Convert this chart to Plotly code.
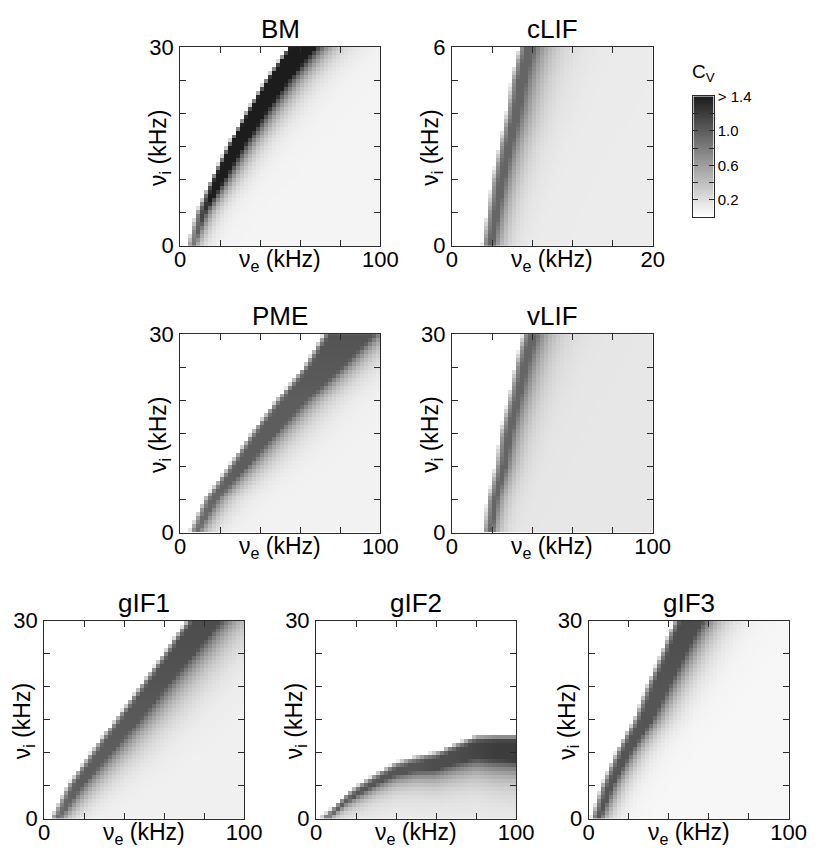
import numpy as np
import plotly.graph_objects as go

FONT = "Liberation Sans, Arial, Helvetica, sans-serif"
W, H = 825, 865

# ---------------------------------------------------------------------------
# CV maps, sampled along the boundary of the firing region.
# onset   = rate at which firing sets in (kHz)
# plateau = width of the high-CV band right after onset (kHz)
# fade    = distance over which CV relaxes to the floor value (kHz)
# peak    = CV inside the band
# ---------------------------------------------------------------------------
NU_I_LEVELS = [0, 5, 10, 15, 20, 25, 30]          # kHz
CLIF_NU_I_LEVELS = [0, 1, 2, 3, 4, 5, 6]          # kHz

bm_onset = [3.9, 8.5, 16.0, 24.0, 33.0, 43.0, 54.5]
bm_plateau = [2, 3, 4, 5, 6.5, 8, 10]
bm_fade = [10, 12, 14, 16, 18, 20, 22]
bm_peak = [0.85, 1.2, 1.75, 1.9, 1.9, 1.9, 1.9]
bm_floor = 0.07

clif_onset = [3.1, 3.6, 4.1, 4.8, 5.5, 6.0, 6.8]
clif_plateau = [0.8, 0.9, 1.0, 1.0, 1.1, 1.2, 1.2]
clif_fade = [2.8, 3.0, 3.4, 3.8, 4.2, 4.6, 5.0]
clif_peak = [0.95, 0.95, 0.95, 0.95, 0.95, 0.95, 0.95]
clif_floor = 0.12

pme_onset = [5.0, 12.5, 24.5, 36.0, 48.5, 62.0, 72.2]
pme_plateau = [3, 5, 8, 11, 14, 18, 24]
pme_fade = [14, 18, 22, 24, 24, 24, 24]
pme_peak = [0.9, 0.95, 1.0, 1.0, 1.0, 1.03, 1.06]
pme_floor = 0.08

vlif_onset = [16.0, 18.1, 22.1, 24.5, 28.5, 31.8, 35.8]
vlif_plateau = [3, 3.5, 4, 4.5, 4.5, 5, 5.5]
vlif_fade = [10, 12, 14, 16, 18, 20, 22]
vlif_peak = [0.95, 0.95, 0.95, 0.95, 0.95, 0.95, 0.95]
vlif_floor = 0.15

gif1_onset = [3.6, 12.0, 23.8, 35.9, 48.1, 60.2, 71.5]
gif1_plateau = [3, 6, 9, 11, 12, 14, 16]
gif1_fade = [14, 22, 26, 28, 30, 30, 30]
gif1_peak = [0.9, 1.0, 1.0, 1.02, 1.05, 1.08, 1.1]
gif1_floor = 0.09

# gIF2 fires below a ceiling in nu_i that depends on nu_e
GIF2_NU_E_LEVELS = [0, 5, 10, 15, 20, 30, 40, 50, 60, 70, 80, 90, 100]
gif2_ceiling = [-0.5, 0.8, 2.1, 3.6, 4.8, 6.7, 8.4, 9.3, 9.9, 11.2, 12.4, 12.5, 12.5]
gif2_plateau = [0.4, 0.5, 0.6, 0.8, 1.0, 1.2, 1.5, 1.8, 2.2, 2.6, 3.0, 3.3, 3.5]
gif2_fade = [1.5, 2.0, 2.5, 3.0, 3.5, 4.0, 4.5, 5.0, 5.5, 6.0, 6.5, 7.0, 7.0]
gif2_peak = [0.9, 0.95, 1.0, 1.0, 1.05, 1.05, 1.05, 1.05, 1.1, 1.1, 1.15, 1.2, 1.2]
gif2_floor = 0.12

gif3_onset = [1.3, 6.5, 13.8, 22.7, 29.1, 36.4, 42.9]
gif3_plateau = [3, 4.5, 6, 8, 10, 11, 13]
gif3_fade = [12, 14, 16, 18, 20, 22, 24]
gif3_peak = [1.05, 1.05, 1.05, 1.05, 1.05, 1.08, 1.1]
gif3_floor = 0.05

CV_MAX = 1.4
N_CELLS = 50


def cell_value(frac, dist, step, plateau, fade, peak, floor):
    """CV of one grid cell; frac = part of the cell past the onset,
    dist = distance of the cell's near edge from the onset."""
    if frac <= 0.15:
        return np.nan
    if frac < 1.0:
        return 0.7 * peak * frac
    if dist < step:
        return peak * (0.7 + 0.3 * dist / step)
    if dist < plateau:
        return peak
    return floor + (peak - floor) * np.exp(-(dist - plateau) / (fade / 3.0))


def cv_map(x_max, y_max, levels, onset, plateau, fade, peak, floor, along="x"):
    dx, dy = x_max / N_CELLS, y_max / N_CELLS
    xc = (np.arange(N_CELLS) + 0.5) * dx
    yc = (np.arange(N_CELLS) + 0.5) * dy
    z = np.full((N_CELLS, N_CELLS), np.nan)
    if along == "x":
        for j, y in enumerate(yc):
            x0 = np.interp(y, levels, onset)
            w = np.interp(y, levels, plateau)
            f = np.interp(y, levels, fade)
            p = np.interp(y, levels, peak)
            for i, x in enumerate(xc):
                frac = (x + dx / 2 - x0) / dx
                z[j, i] = cell_value(frac, x - dx / 2 - x0, dx, w, f, p, floor)
    else:
        for i, x in enumerate(xc):
            y0 = np.interp(x, levels, onset)
            w = np.interp(x, levels, plateau)
            f = np.interp(x, levels, fade)
            p = np.interp(x, levels, peak)
            for j, y in enumerate(yc):
                frac = (y0 - (y - dy / 2)) / dy
                z[j, i] = cell_value(frac, y0 - (y + dy / 2), dy, w, f, p, floor)
    return xc, yc, z


GRAY = [[0.0, "#ffffff"], [1.0, "#1c1c1c"]]

# title, x max, y max, x tick step, y tick step, pixel box (left, right, top, bottom), map
panels = [
    ("BM", 100, 30, 20, 5, (179.3, 385.7, 36, 240.7),
     cv_map(100, 30, NU_I_LEVELS, bm_onset, bm_plateau, bm_fade, bm_peak, bm_floor)),
    ("cLIF", 20, 6, 4, 1, (459.3, 666, 36, 240.7),
     cv_map(20, 6, CLIF_NU_I_LEVELS, clif_onset, clif_plateau, clif_fade, clif_peak, clif_floor)),
    ("PME", 100, 30, 20, 5, (179.3, 385.7, 331.7, 536),
     cv_map(100, 30, NU_I_LEVELS, pme_onset, pme_plateau, pme_fade, pme_peak, pme_floor)),
    ("vLIF", 100, 30, 20, 5, (459.3, 666, 331.7, 536),
     cv_map(100, 30, NU_I_LEVELS, vlif_onset, vlif_plateau, vlif_fade, vlif_peak, vlif_floor)),
    ("gIF1", 100, 30, 20, 5, (39.3, 245.3, 626.7, 830.7),
     cv_map(100, 30, NU_I_LEVELS, gif1_onset, gif1_plateau, gif1_fade, gif1_peak, gif1_floor)),
    ("gIF2", 100, 30, 20, 5, (319.3, 525.3, 626.7, 830.7),
     cv_map(100, 30, GIF2_NU_E_LEVELS, gif2_ceiling, gif2_plateau, gif2_fade, gif2_peak,
            gif2_floor, along="y")),
    ("gIF3", 100, 30, 20, 5, (600, 806, 626.7, 830.7),
     cv_map(100, 30, NU_I_LEVELS, gif3_onset, gif3_plateau, gif3_fade, gif3_peak, gif3_floor)),
]

fig = go.Figure()
layout = dict(
    width=W, height=H, margin=dict(l=0, r=0, t=0, b=0),
    paper_bgcolor="white", plot_bgcolor="white",
    font=dict(family=FONT, size=22, color="black"),
    showlegend=False,
)
annotations = []

LINE = "#2a2a2a"


def px_x(v):
    return v / W


def px_y(v):
    return 1 - v / H


def axis_common(rng, tickvals, ticktext, standoff):
    return dict(range=rng, tickvals=tickvals, ticktext=ticktext, ticks="inside",
                ticklen=6, tickwidth=1, tickcolor=LINE, mirror="ticks", showline=True,
                linecolor=LINE, linewidth=1, showgrid=False, zeroline=False,
                ticklabelstandoff=standoff,
                tickfont=dict(family=FONT, size=22, color="black"), fixedrange=True)


for k, (title, xmax, ymax, xstep, ystep, box, (xc, yc, z)) in enumerate(panels, start=1):
    left, right, top, bottom = box
    sfx = "" if k == 1 else str(k)
    fig.add_trace(go.Heatmap(
        x=xc, y=yc, z=z, zmin=0, zmax=CV_MAX, colorscale=GRAY, showscale=False,
        zsmooth=False, hoverinfo="skip", xaxis="x" + sfx, yaxis="y" + sfx))
    xt = list(np.arange(0, xmax + 1e-9, xstep))
    yt = list(np.arange(0, ymax + 1e-9, ystep))
    xlab = [f"{v:g}" if v in (0, xmax) else "" for v in xt]
    ylab = [f"{v:g}" if v in (0, ymax) else "" for v in yt]
    layout["xaxis" + sfx] = dict(axis_common([0, xmax], xt, xlab, -6),
                                 domain=[px_x(left), px_x(right)], anchor="y" + sfx)
    layout["yaxis" + sfx] = dict(axis_common([0, ymax], yt, ylab, 1),
                                 domain=[px_y(bottom), px_y(top)], anchor="x" + sfx)
    cx = (left + right) / 2
    annotations.append(dict(text=title, x=px_x(cx), y=px_y(top - 18.5), xref="paper",
                            yref="paper", showarrow=False, xanchor="center",
                            yanchor="middle", font=dict(family=FONT, size=26)))
    annotations.append(dict(text="ν<sub>e</sub> (kHz)", x=px_x(cx), y=px_y(bottom + 15),
                            xref="paper", yref="paper", showarrow=False,
                            xanchor="center", yanchor="middle",
                            font=dict(family=FONT, size=23)))
    annotations.append(dict(text="ν<sub>i</sub> (kHz)", x=px_x(left - 21),
                            y=px_y((top + bottom) / 2 + 2), xref="paper", yref="paper",
                            showarrow=False, xanchor="center", yanchor="middle",
                            textangle=-90, font=dict(family=FONT, size=23)))

# shared grey scale bar for CV
cb_vals = np.linspace(0, CV_MAX, 141)
fig.add_trace(go.Heatmap(
    x=[0], y=cb_vals, z=cb_vals.reshape(-1, 1), zmin=0, zmax=CV_MAX, colorscale=GRAY,
    showscale=False, zsmooth=False, hoverinfo="skip", xaxis="x8", yaxis="y8"))
layout["xaxis8"] = dict(range=[-0.5, 0.5], domain=[px_x(708), px_x(729)], anchor="y8",
                        showticklabels=False, ticks="", showline=True, mirror=True,
                        linecolor=LINE, linewidth=1, showgrid=False, zeroline=False,
                        fixedrange=True)
layout["yaxis8"] = dict(range=[0, CV_MAX], domain=[px_y(211), px_y(87)], anchor="x8",
                        side="right", tickvals=[0.2, 0.4, 0.6, 0.8, 1.0, 1.2, 1.4],
                        ticktext=["0.2", "", "0.6", "", "1.0", "", "> 1.4"],
                        ticks="inside", ticklen=5, tickwidth=1, tickcolor=LINE,
                        mirror="ticks", showline=True, linecolor=LINE, linewidth=1,
                        showgrid=False, zeroline=False, fixedrange=True,
                        tickfont=dict(family=FONT, size=15, color="black"))
annotations.append(dict(text="C<sub>V</sub>", x=px_x(705), y=px_y(63), xref="paper",
                        yref="paper", showarrow=False, xanchor="left", yanchor="middle",
                        font=dict(family=FONT, size=19)))

layout["annotations"] = annotations
fig.update_layout(**layout)
fig.write_html("out.html", config={"displayModeBar": False})
